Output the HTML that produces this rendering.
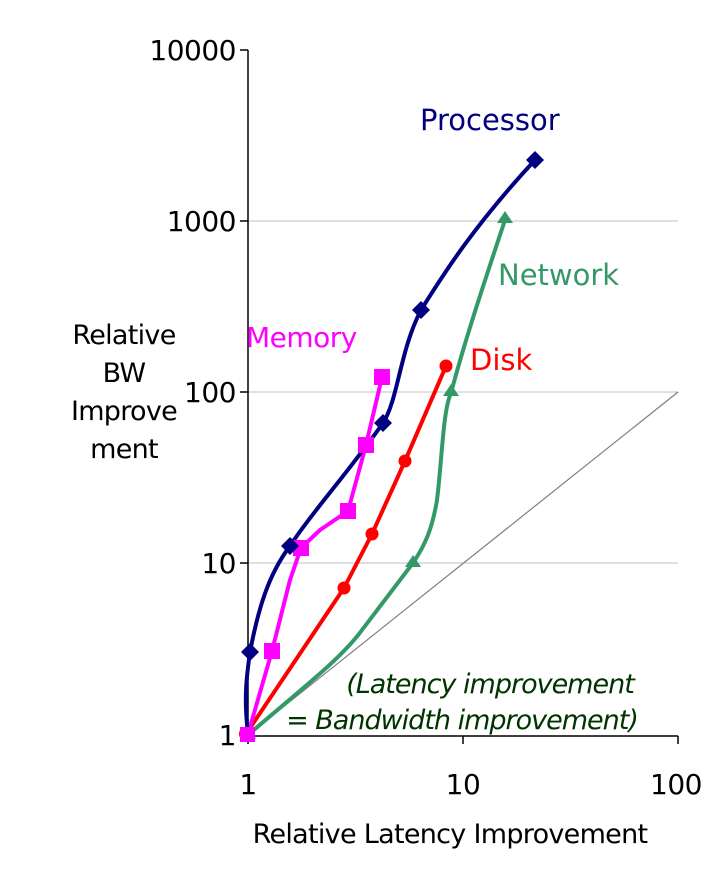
<!DOCTYPE html>
<html><head><style>body{margin:0;background:#fff}svg{display:block}</style></head><body>
<svg width="726" height="878" xmlns="http://www.w3.org/2000/svg" font-family="DejaVu Sans, Liberation Sans, sans-serif">
<g stroke="#c0c0c0" stroke-width="1">
<line x1="248" y1="221" x2="678" y2="221"/><line x1="248" y1="392" x2="678" y2="392"/><line x1="248" y1="563" x2="678" y2="563"/>
</g>
<g stroke="#000" stroke-width="1.5">
<line x1="248" y1="50" x2="248" y2="736"/><line x1="248" y1="736" x2="678" y2="736"/>
<line x1="240" y1="50" x2="248" y2="50"/><line x1="240" y1="221" x2="248" y2="221"/><line x1="240" y1="392" x2="248" y2="392"/><line x1="240" y1="563" x2="248" y2="563"/><line x1="240" y1="735" x2="248" y2="735"/>
<line x1="248" y1="736" x2="248" y2="744"/><line x1="463" y1="736" x2="463" y2="744"/><line x1="678" y1="736" x2="678" y2="744"/>
</g>
<g font-size="28" text-anchor="end" fill="#000" letter-spacing="-0.5">
<text x="236" y="60">10000</text><text x="236" y="231">1000</text><text x="236" y="402">100</text><text x="236" y="573">10</text><text x="236" y="745">1</text>
</g>
<g font-size="28" text-anchor="middle" letter-spacing="-0.5"><text x="248" y="794">1</text><text x="463" y="794">10</text><text x="676" y="794">100</text></g>
<text x="450" y="843" font-size="27" text-anchor="middle" letter-spacing="-0.7">Relative Latency Improvement</text>
<g font-size="27" text-anchor="middle" letter-spacing="-0.7"><text x="124" y="344">Relative</text><text x="124" y="382">BW</text><text x="124" y="420">Improve</text><text x="124" y="458">ment</text></g>
<line x1="248" y1="735" x2="678" y2="392" stroke="#808080" stroke-width="1.2"/>
<path d="M248,735 C300,690 340,660 362,630 C385,600 400,580 413,563 C425,545 432,530 437,500 C442,460 443,410 451,393 C465,340 485,280 505,220" fill="none" stroke="#339966" stroke-width="4"/>
<path d="M246,734 L344,588 L372,534 L405,461 L446,366" fill="none" stroke="#ff0000" stroke-width="4" stroke-linejoin="round"/>
<path d="M248,734 L272,651 L290,580 L301,548 L320,530 L348,511 L366,445 L382,377" fill="none" stroke="#ff00ff" stroke-width="4" stroke-linejoin="round"/>
<path d="M248,734 C244,700 246,680 250,652 C258,610 268,575 290,546 C310,515 350,470 383,423 C398,400 400,350 421,310 C440,280 470,230 535,160" fill="none" stroke="#000080" stroke-width="4"/>
<g fill="#339966"><path d="M248,727 l8,12 h-16z"/><path d="M413,555 l8,12 h-16z"/><path d="M451,384 l8,12 h-16z"/><path d="M505,211 l8,12 h-16z"/></g>
<g fill="#ff0000"><circle cx="246" cy="734" r="7"/><circle cx="344" cy="588" r="6.5"/><circle cx="372" cy="534" r="6.5"/><circle cx="405" cy="461" r="6.5"/><circle cx="446" cy="366" r="6.5"/></g>
<g fill="#ff00ff"><rect x="240" y="727" width="15" height="15"/><rect x="264" y="643" width="16" height="16"/><rect x="293" y="540" width="16" height="16"/><rect x="340" y="503" width="16" height="16"/><rect x="358" y="437" width="16" height="16"/><rect x="374" y="369" width="16" height="16"/></g>
<g fill="#000080"><path d="M250,643 l9,9 -9,9 -9,-9z"/><path d="M290,537 l9,9 -9,9 -9,-9z"/><path d="M383,414 l9,9 -9,9 -9,-9z"/><path d="M421,301 l9,9 -9,9 -9,-9z"/><path d="M535,151 l9,9 -9,9 -9,-9z"/></g>
<text x="420" y="130" font-size="29" fill="#000080">Processor</text>
<text x="498" y="285" font-size="29" fill="#339966">Network</text>
<text x="246" y="347" font-size="28" fill="#ff00ff" letter-spacing="-0.5">Memory</text>
<text x="470" y="370" font-size="29" fill="#ff0000">Disk</text>
<g font-size="27" font-style="italic" fill="#003300" text-anchor="middle" letter-spacing="-1"><text x="490" y="693">(Latency improvement</text><text x="462" y="729">= Bandwidth improvement)</text></g>
</svg>
</body></html>
